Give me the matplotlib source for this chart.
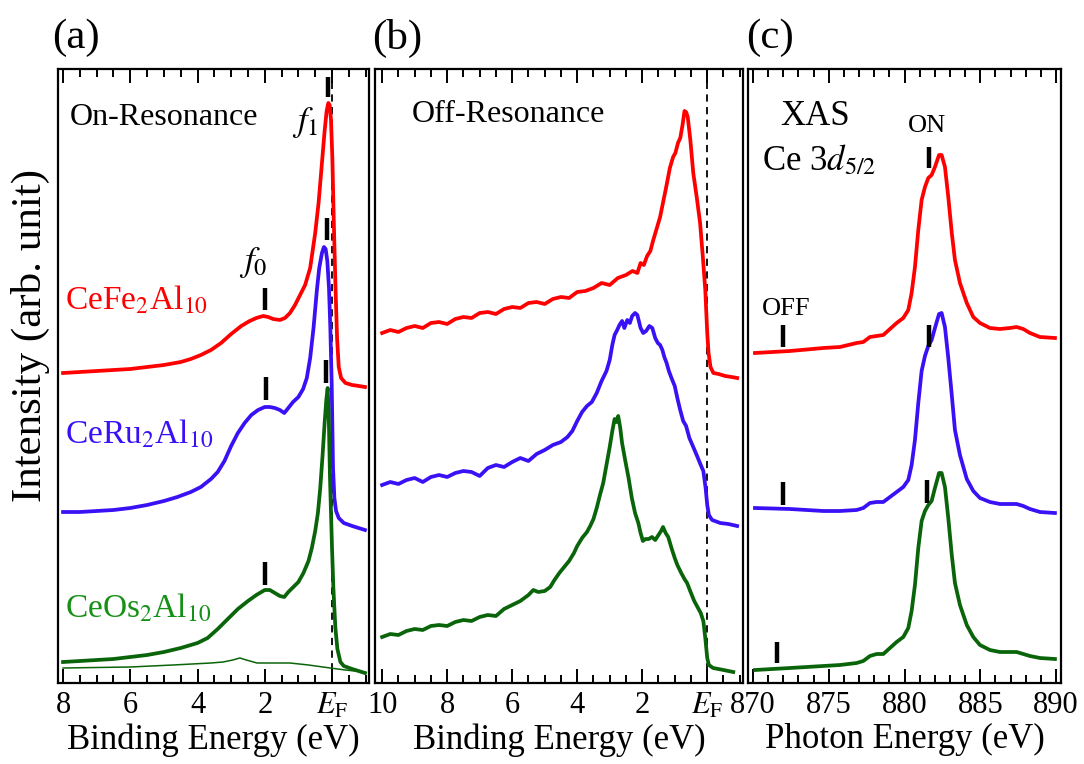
import numpy as np
import matplotlib
matplotlib.use("Agg")
import matplotlib.pyplot as plt

plt.rcParams['font.family'] = ['Liberation Serif', 'DejaVu Serif']
plt.rcParams['mathtext.fontset'] = 'stix'

# ---- panel (a): on-resonance (binding energy eV, intensity arb.)
fe_on_e = [8.0, 7.5, 7.0, 6.5, 6.0, 5.5, 5.0, 4.5, 4.2, 3.9, 3.6, 3.3, 3.0, 2.7, 2.45, 2.25,
           2.05, 1.9, 1.75, 1.55, 1.4, 1.25, 1.1, 0.95, 0.8, 0.65, 0.5, 0.4, 0.3, 0.22, 0.16,
           0.11, 0.07, 0.03, -0.01, -0.05, -0.1, -0.15, -0.2, -0.27, -0.4, -0.6, -0.8, -0.98]
fe_on_i = [310, 311, 312, 313, 314, 316, 318, 321, 324, 328, 333, 340, 349, 357, 362, 365,
           367, 366, 364, 363, 365, 370, 378, 388, 398, 415, 450, 480, 520, 552, 572,
           580, 578, 563, 525, 465, 400, 345, 316, 305, 300, 298, 297, 296]

ru_on_e = [8.0, 7.5, 7.0, 6.5, 6.0, 5.5, 5.0, 4.6, 4.2, 3.9, 3.6, 3.4, 3.2, 3.0, 2.8, 2.6,
           2.4, 2.2, 2.0, 1.85, 1.7, 1.55, 1.42, 1.3, 1.16, 1.0, 0.86, 0.75, 0.65, 0.55, 0.45,
           0.38, 0.3, 0.24, 0.19, 0.14, 0.09, 0.05, 0.01, -0.03, -0.07, -0.12, -0.2, -0.35,
           -0.6, -0.98]
ru_on_i = [171, 171, 172, 173, 175, 178, 182, 186, 191, 196, 204, 211, 222, 237, 250, 260,
           268, 273, 276, 276, 275, 273, 270, 275, 281, 286, 294, 305, 325, 355, 393,
           415, 430, 436, 434, 422, 395, 355, 300, 215, 185, 172, 165, 160,
           157, 153]

os_on_e = [8.0, 7.5, 7.0, 6.5, 6.0, 5.5, 5.0, 4.5, 4.0, 3.7, 3.4, 3.1, 2.8, 2.5, 2.25, 2.0,
           1.85, 1.7, 1.55, 1.42, 1.3, 1.15, 1.0, 0.85, 0.7, 0.6, 0.5, 0.42, 0.35, 0.28, 0.22,
           0.17, 0.13, 0.1, 0.06, 0.0, -0.04, -0.1, -0.16, -0.25, -0.35, -0.6, -0.98]
os_on_i = [21, 22, 23, 24, 26, 28, 31, 35, 40, 45, 54, 64, 74, 82, 88, 93,
           93, 90, 87, 86, 91, 96, 101, 110, 122, 135, 152, 170, 195, 228, 260,
           283, 295, 272, 205, 135, 95, 55, 34, 21, 17, 14, 10]

os_thin_e = [8.0, 6.0, 4.73, 3.6, 3.24, 2.95, 2.74, 2.55, 2.23, 1.8, 1.25, 0.7, 0.27, -0.39, -0.98]
os_thin_i = [15, 16, 18, 20, 21, 23, 25, 23, 20, 20, 20, 18, 16, 13, 11]

# ---- panel (b): off-resonance
fe_off_e = [10.0, 9.75, 9.5, 9.25, 9.0, 8.75, 8.5, 8.25, 8.0, 7.75, 7.5, 7.25, 7.0, 6.75,
            6.5, 6.25, 6.0, 5.75, 5.5, 5.25, 5.0, 4.75, 4.5, 4.25, 4.0, 3.75, 3.5, 3.25,
            3.0, 2.75, 2.5, 2.3, 2.15, 2.05, 1.95, 1.85, 1.75, 1.66, 1.55, 1.45, 1.35, 1.25,
            1.15, 1.05, 0.98, 0.9, 0.83, 0.76, 0.7, 0.65, 0.6, 0.52, 0.43, 0.32, 0.22, 0.14,
            0.06, 0.0, -0.04, -0.1, -0.19, -0.35, -0.55, -0.75, -0.92]
fe_off_i = [350, 353, 351, 355, 357, 355, 360, 361, 359, 364, 366, 365, 370, 371,
            369, 374, 376, 375, 380, 381, 379, 384, 386, 385, 391, 392, 395, 400,
            398, 405, 408, 412, 410, 420, 418, 427, 432, 443, 455, 466, 482, 498,
            515, 526, 530, 540, 545, 558, 572, 571, 566, 543, 510, 485, 460, 428,
            393, 350, 330, 316, 310, 309, 307, 306, 305]

ru_off_e = [10.0, 9.75, 9.5, 9.25, 9.0, 8.75, 8.5, 8.25, 8.0, 7.75, 7.5, 7.25, 7.0, 6.75,
            6.5, 6.25, 6.0, 5.75, 5.5, 5.25, 5.0, 4.75, 4.5, 4.3, 4.15, 4.0, 3.85, 3.7,
            3.55, 3.4, 3.25, 3.1, 3.0, 2.92, 2.85, 2.77, 2.7, 2.62, 2.55, 2.46, 2.38, 2.31,
            2.22, 2.15, 2.05, 1.97, 1.88, 1.78, 1.69, 1.6, 1.52, 1.45, 1.38, 1.32, 1.25, 1.18,
            1.1, 1.0, 0.92, 0.84, 0.74, 0.65, 0.55, 0.43, 0.3, 0.2, 0.12, 0.05, 0.0, -0.05,
            -0.15, -0.4, -0.65, -0.92]
ru_off_i = [198, 201, 199, 203, 205, 201, 206, 208, 206, 210, 212, 211, 207, 215,
            218, 216, 221, 225, 222, 229, 233, 238, 241, 246, 252, 262, 271, 277,
            281, 290, 302, 312, 323, 338, 348, 353, 358, 362, 355, 363, 360, 367,
            370, 368, 355, 350, 352, 357, 355, 345, 340, 338, 333, 326, 320, 312,
            305, 297, 285, 274, 262, 257, 245, 236, 226, 218, 212, 195, 178, 168,
            163, 160, 159, 157]

os_off_e = [10.0, 9.75, 9.5, 9.25, 9.0, 8.75, 8.5, 8.25, 8.0, 7.75, 7.5, 7.25, 7.0, 6.75,
            6.5, 6.25, 6.0, 5.75, 5.5, 5.35, 5.2, 5.0, 4.83, 4.7, 4.55, 4.4, 4.25, 4.1,
            4.0, 3.85, 3.7, 3.6, 3.5, 3.4, 3.3, 3.2, 3.1, 3.0, 2.92, 2.85, 2.79, 2.74,
            2.68, 2.62, 2.52, 2.42, 2.32, 2.22, 2.12, 2.05, 1.98, 1.9, 1.8, 1.7, 1.6, 1.5,
            1.42, 1.36, 1.28, 1.2, 1.1, 1.0, 0.92, 0.8, 0.7, 0.62, 0.5, 0.4, 0.3, 0.2,
            0.12, 0.06, 0.0, -0.05, -0.18, -0.5, -0.8]
os_off_i = [46, 49, 48, 52, 54, 53, 57, 58, 57, 61, 63, 62, 66, 68,
            67, 74, 78, 82, 88, 93, 91, 92, 96, 103, 110, 116, 122, 130,
            137, 145, 151, 157, 164, 175, 188, 200, 218, 236, 252, 264, 261, 267,
            256, 240, 222, 205, 185, 170, 160, 150, 142, 144, 144, 146, 143, 148,
            152, 156, 150, 146, 135, 125, 118, 110, 104, 100, 90, 82, 76, 70,
            62, 45, 25, 18, 15, 13, 11]

# ---- panel (c): XAS Ce 3d5/2 (photon energy eV)
xas_e = [870.13, 872.44, 874.64, 875.74, 876.84, 877.28, 877.72, 878.16, 878.6, 879.04,
         879.48, 879.92, 880.25, 880.47, 880.69, 880.91, 881.13, 881.35, 881.57, 881.79,
         882.01, 882.28, 882.45, 882.67, 882.89, 883.12, 883.33, 883.66, 884.11, 884.54,
         884.98, 885.64, 886.3, 886.96, 887.4, 887.84, 888.28, 888.94, 889.93]
fe_xas_i = [330, 332, 335, 336, 340, 341, 346, 347, 348, 354,
            360, 365, 373, 390, 416, 453, 483, 496, 505, 508,
            516, 528, 528, 516, 486, 450, 423, 400, 380, 366,
            360, 355, 354, 355, 356, 354, 350, 346, 345]
ru_xas_i = [175, 174, 172, 172, 173, 175, 180, 181, 181, 186,
            191, 196, 203, 218, 243, 280, 312, 327, 337, 343,
            355, 369, 370, 356, 325, 288, 253, 228, 204, 192,
            185, 181, 179, 179, 179, 177, 174, 171, 170]
os_xas_i = [13, 15, 17, 18, 20, 22, 27, 29, 29, 35,
            41, 46, 55, 72, 98, 135, 162, 172, 178, 182,
            195, 210, 210, 196, 165, 128, 100, 78, 58, 46,
            38, 33, 31, 31, 31, 29, 27, 25, 24]

# marker bars: (x, y_low, y_high)
f0_marks = [(2.0, 373, 395), (1.95, 283, 306), (1.98, 98, 121)]
f1_marks = [(0.12, 586, 606), (0.15, 443, 465), (0.18, 300, 323)]
on_marks = [(881.6, 515, 536), (881.6, 336, 358), (881.5, 180, 203)]
off_marks = [(872.0, 336, 358), (872.0, 178, 201), (871.6, 20, 41)]

red = '#ff0000'
blue = '#3a10f5'
green = '#0a640a'
green_txt = '#169016'

W, H = 1084, 764
fig = plt.figure(figsize=(W / 100, H / 100), dpi=100)

def px_axes(x0, x1, y0=69, y1=683):
    return fig.add_axes([x0 / W, (H - y1) / H, (x1 - x0) / W, (y1 - y0) / H])

axa = px_axes(58, 369)
axb = px_axes(375, 743)
axc = px_axes(748, 1061)

lw = 2.7
axa.plot(fe_on_e, fe_on_i, color=red, lw=lw)
axa.plot(ru_on_e, ru_on_i, color=blue, lw=lw)
axa.plot(os_on_e, os_on_i, color=green, lw=lw)
axa.plot(os_thin_e, os_thin_i, color=green, lw=1.1)

axb.plot(fe_off_e, fe_off_i, color=red, lw=lw)
axb.plot(ru_off_e, ru_off_i, color=blue, lw=lw)
axb.plot(os_off_e, os_off_i, color=green, lw=lw)

axc.plot(xas_e, fe_xas_i, color=red, lw=lw)
axc.plot(xas_e, ru_xas_i, color=blue, lw=lw)
axc.plot(xas_e, os_xas_i, color=green, lw=lw)

for ax, marks in [(axa, f0_marks + f1_marks), (axc, on_marks + off_marks)]:
    for x, ylo, yhi in marks:
        ax.plot([x, x], [ylo, yhi], color='black', lw=3.2, solid_capstyle='butt')

for ax in (axa, axb):
    ax.axvline(0, color='black', lw=1.3, ls=(0, (4, 3)), zorder=0)

axa.set_xlim(8.15, -1.1)
axb.set_xlim(10.22, -1.1)
axc.set_xlim(869.67, 890.33)

axa.set_xticks([8, 6, 4, 2, 0])
axa.set_xticklabels(['8', '6', '4', '2', r'$E_\mathrm{F}$'])
axa.set_xticks(np.arange(-1, 8.1, 0.5), minor=True)
axb.set_xticks([10, 8, 6, 4, 2, 0])
axb.set_xticklabels(['10', '8', '6', '4', '2', r'$E_\mathrm{F}$'])
axb.set_xticks(np.arange(-1, 10.1, 0.5), minor=True)
axc.set_xticks([870, 875, 880, 885, 890])
axc.set_xticks(np.arange(870, 891, 1), minor=True)

for ax in (axa, axb, axc):
    ax.set_ylim(0, 614)
    ax.set_yticks([])
    ax.tick_params(axis='x', which='both', direction='in', top=True, width=1.4, labelsize=22, pad=6)
    ax.tick_params(axis='x', which='major', length=10)
    ax.tick_params(axis='x', which='minor', length=6)
    for lab in ax.get_xticklabels():
        lab.set_fontfamily('Liberation Serif')
    for s in ax.spines.values():
        s.set_linewidth(1.6)

axa.set_xlabel('Binding Energy (eV)', fontsize=25, labelpad=2)
axb.set_xlabel('Binding Energy (eV)', fontsize=25, labelpad=2)
axc.set_xlabel('Photon Energy (eV)', fontsize=25, labelpad=2)

fig.text(30 / W, 1 - 335 / H, 'Intensity (arb. unit)', rotation=90, fontsize=31,
         ha='center', va='center')

fig.text(52 / W, 1 - 38 / H, '(a)', fontsize=31, va='center')
fig.text(372 / W, 1 - 38 / H, '(b)', fontsize=31, va='center')
fig.text(746 / W, 1 - 38 / H, '(c)', fontsize=31, va='center')

axa.text(7.8, 558, 'On-Resonance', fontsize=23, va='baseline')
axa.text(0.8, 560, r'$f_1$', fontsize=25, ha='center', va='center')
axa.text(2.35, 421, r'$f_0$', fontsize=25, ha='center', va='center')
axa.text(7.95, 373, r'CeFe$_2$Al$_{10}$', fontsize=24, color=red, va='baseline')
axa.text(7.95, 240, r'CeRu$_2$Al$_{10}$', fontsize=24, color=blue, va='baseline')
axa.text(7.95, 66, r'CeOs$_2$Al$_{10}$', fontsize=24, color=green_txt, va='baseline')

axb.text(9.08, 561, 'Off-Resonance', fontsize=23, va='baseline')

axc.text(871.8, 558, 'XAS', fontsize=25, va='baseline')
axc.text(870.6, 513, r'Ce 3$d_{5/2}$', fontsize=25, va='baseline')
axc.text(880.2, 551, 'ON', fontsize=19, va='baseline')
axc.text(870.6, 368, 'OFF', fontsize=19, va='baseline')

plt.savefig('out.png', dpi=100)
